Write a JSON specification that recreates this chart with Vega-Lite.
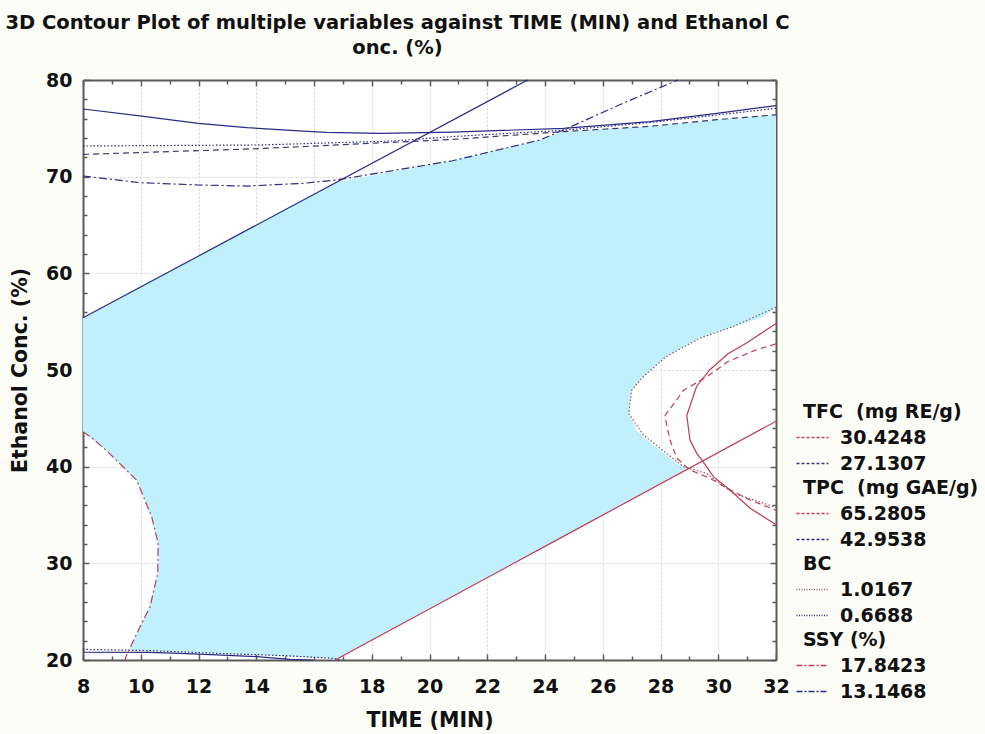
{
  "$schema": "https://vega.github.io/schema/vega-lite/v6.json",
  "width": 693,
  "height": 580,
  "autosize": {"type": "none"},
  "padding": {"left": 83, "top": 80, "right": 209, "bottom": 74},
  "background": "#fdfdf8",
  "title": {
    "text": ["3D Contour Plot of multiple variables against TIME (MIN) and Ethanol C", "onc. (%)"],
    "font": "DejaVu Sans", "fontWeight": "bold", "fontSize": 19.5, "lineHeight": 25,
    "anchor": "middle", "dx": -32, "offset": 13, "color": "#111111"
  },
  "config": {
    "view": {"stroke": null, "fill": "#ffffff"},
    "axis": {
      "domainColor": "#5a5a5a", "domainWidth": 2, "tickColor": "#5a5a5a", "tickWidth": 1.5,
      "labelFont": "DejaVu Sans", "labelFontWeight": "bold", "labelFontSize": 19, "labelColor": "#111111",
      "titleFont": "DejaVu Sans", "titleFontWeight": "bold", "titleFontSize": 20.5, "titleColor": "#111111",
      "labelFlush": false, "labelOverlap": false
    },
    "legend": {
      "orient": "none", "padding": 0,
      "titleFont": "DejaVu Sans", "titleFontSize": 19, "titleFontWeight": "bold", "titleColor": "#111111",
      "labelFont": "DejaVu Sans", "labelFontSize": 19, "labelFontWeight": "bold", "labelColor": "#111111",
      "symbolType": "M-2,0H2", "symbolSize": 256, "symbolStrokeWidth": 1.5,
      "rowPadding": 6, "titlePadding": 6, "labelOffset": 18
    }
  },
  "datasets": {
    "region": [
      {"y": 20, "xl": 16.75, "xr": 16.75},
      {"y": 20.2, "xl": 16.5, "xr": 16.85},
      {"y": 20.5, "xl": 14.46, "xr": 17.04},
      {"y": 20.8, "xl": 11.72, "xr": 17.23},
      {"y": 21.0, "xl": 9.6, "xr": 17.35},
      {"y": 23.4, "xl": 9.97, "xr": 18.83},
      {"y": 25.5, "xl": 10.32, "xr": 20.13},
      {"y": 29.0, "xl": 10.59, "xr": 22.3},
      {"y": 32.1, "xl": 10.6, "xr": 24.22},
      {"y": 34.8, "xl": 10.38, "xr": 25.89},
      {"y": 38.6, "xl": 9.86, "xr": 28.24},
      {"y": 39.75, "xl": 9.47, "xr": 28.94},
      {"y": 40.3, "xl": 9.28, "xr": 28.56},
      {"y": 41.7, "xl": 8.8, "xr": 28.0},
      {"y": 43.1, "xl": 8.21, "xr": 27.4},
      {"y": 43.6, "xl": 8.0, "xr": 27.2},
      {"y": 45.5, "xl": 8.0, "xr": 26.9},
      {"y": 47.9, "xl": 8.0, "xr": 27.0},
      {"y": 49.3, "xl": 8.0, "xr": 27.4},
      {"y": 51.4, "xl": 8.0, "xr": 28.2},
      {"y": 53.3, "xl": 8.0, "xr": 29.37},
      {"y": 54.5, "xl": 8.0, "xr": 30.52},
      {"y": 55.4, "xl": 8.0, "xr": 31.5},
      {"y": 56.5, "xl": 8.69, "xr": 32},
      {"y": 60, "xl": 10.88, "xr": 32},
      {"y": 65, "xl": 14.01, "xr": 32},
      {"y": 69.45, "xl": 16.8, "xr": 32},
      {"y": 71.65, "xl": 20.8, "xr": 32},
      {"y": 73.8, "xl": 23.83, "xr": 32},
      {"y": 74.65, "xl": 24.6, "xr": 32},
      {"y": 75.2, "xl": 27.6, "xr": 32},
      {"y": 75.9, "xl": 29.96, "xr": 32},
      {"y": 76.4, "xl": 32, "xr": 32}
    ],
    "tfc": [
      {"lvl": "30.4248", "seg": "K", "i": 0, "x": 32, "y": 52.7},
      {"lvl": "30.4248", "seg": "K", "i": 1, "x": 31.33, "y": 52.1},
      {"lvl": "30.4248", "seg": "K", "i": 2, "x": 30.35, "y": 50.9},
      {"lvl": "30.4248", "seg": "K", "i": 3, "x": 29.6, "y": 49.3},
      {"lvl": "30.4248", "seg": "K", "i": 4, "x": 28.8, "y": 47.9},
      {"lvl": "30.4248", "seg": "K", "i": 5, "x": 28.16, "y": 45.3},
      {"lvl": "30.4248", "seg": "K", "i": 6, "x": 28.2, "y": 44.5},
      {"lvl": "30.4248", "seg": "K", "i": 7, "x": 28.33, "y": 42.76},
      {"lvl": "30.4248", "seg": "K", "i": 8, "x": 28.56, "y": 40.9},
      {"lvl": "30.4248", "seg": "K", "i": 9, "x": 29.02, "y": 39.66},
      {"lvl": "30.4248", "seg": "K", "i": 10, "x": 29.71, "y": 38.8},
      {"lvl": "30.4248", "seg": "K", "i": 11, "x": 30.41, "y": 37.6},
      {"lvl": "30.4248", "seg": "K", "i": 12, "x": 31.1, "y": 36.55},
      {"lvl": "30.4248", "seg": "K", "i": 13, "x": 32, "y": 35.5},
      {"lvl": "27.1307", "seg": "C", "i": 0, "x": 8, "y": 72.3},
      {"lvl": "27.1307", "seg": "C", "i": 1, "x": 14.1, "y": 72.9},
      {"lvl": "27.1307", "seg": "C", "i": 2, "x": 20.8, "y": 73.85},
      {"lvl": "27.1307", "seg": "C", "i": 3, "x": 24.6, "y": 74.65},
      {"lvl": "27.1307", "seg": "C", "i": 4, "x": 27.6, "y": 75.2},
      {"lvl": "27.1307", "seg": "C", "i": 5, "x": 29.96, "y": 75.9},
      {"lvl": "27.1307", "seg": "C", "i": 6, "x": 32, "y": 76.4}
    ],
    "tpc": [
      {"lvl": "65.2805", "seg": "F", "i": 0, "x": 16.73, "y": 20},
      {"lvl": "65.2805", "seg": "F", "i": 1, "x": 24.4, "y": 32.4},
      {"lvl": "65.2805", "seg": "F", "i": 2, "x": 32, "y": 44.7},
      {"lvl": "65.2805", "seg": "J", "i": 0, "x": 32, "y": 54.8},
      {"lvl": "65.2805", "seg": "J", "i": 1, "x": 30.98, "y": 52.8},
      {"lvl": "65.2805", "seg": "J", "i": 2, "x": 30.35, "y": 51.7},
      {"lvl": "65.2805", "seg": "J", "i": 3, "x": 29.7, "y": 50.0},
      {"lvl": "65.2805", "seg": "J", "i": 4, "x": 29.25, "y": 48.3},
      {"lvl": "65.2805", "seg": "J", "i": 5, "x": 28.91, "y": 45.3},
      {"lvl": "65.2805", "seg": "J", "i": 6, "x": 29.02, "y": 42.76},
      {"lvl": "65.2805", "seg": "J", "i": 7, "x": 29.25, "y": 41.4},
      {"lvl": "65.2805", "seg": "J", "i": 8, "x": 29.48, "y": 40.5},
      {"lvl": "65.2805", "seg": "J", "i": 9, "x": 29.83, "y": 38.97},
      {"lvl": "65.2805", "seg": "J", "i": 10, "x": 30.41, "y": 37.59},
      {"lvl": "65.2805", "seg": "J", "i": 11, "x": 31.1, "y": 35.7},
      {"lvl": "65.2805", "seg": "J", "i": 12, "x": 32, "y": 34.0},
      {"lvl": "42.9538", "seg": "A", "i": 0, "x": 8, "y": 77.0},
      {"lvl": "42.9538", "seg": "A", "i": 1, "x": 9.97, "y": 76.28},
      {"lvl": "42.9538", "seg": "A", "i": 2, "x": 11.99, "y": 75.52},
      {"lvl": "42.9538", "seg": "A", "i": 3, "x": 13.67, "y": 75.07},
      {"lvl": "42.9538", "seg": "A", "i": 4, "x": 15.63, "y": 74.72},
      {"lvl": "42.9538", "seg": "A", "i": 5, "x": 16.44, "y": 74.59},
      {"lvl": "42.9538", "seg": "A", "i": 6, "x": 18.29, "y": 74.48},
      {"lvl": "42.9538", "seg": "A", "i": 7, "x": 20.8, "y": 74.6},
      {"lvl": "42.9538", "seg": "A", "i": 8, "x": 24.64, "y": 75.0},
      {"lvl": "42.9538", "seg": "A", "i": 9, "x": 27.64, "y": 75.69},
      {"lvl": "42.9538", "seg": "A", "i": 10, "x": 29.95, "y": 76.55},
      {"lvl": "42.9538", "seg": "A", "i": 11, "x": 32, "y": 77.35},
      {"lvl": "42.9538", "seg": "E", "i": 0, "x": 8, "y": 55.4},
      {"lvl": "42.9538", "seg": "E", "i": 1, "x": 23.4, "y": 80},
      {"lvl": "42.9538", "seg": "G", "i": 0, "x": 8, "y": 20.8},
      {"lvl": "42.9538", "seg": "G", "i": 1, "x": 10.32, "y": 20.79},
      {"lvl": "42.9538", "seg": "G", "i": 2, "x": 11.36, "y": 20.69},
      {"lvl": "42.9538", "seg": "G", "i": 3, "x": 12.63, "y": 20.52},
      {"lvl": "42.9538", "seg": "G", "i": 4, "x": 14.02, "y": 20.35},
      {"lvl": "42.9538", "seg": "G", "i": 5, "x": 15.17, "y": 20.07},
      {"lvl": "42.9538", "seg": "G", "i": 6, "x": 15.97, "y": 20.0}
    ],
    "bc": [
      {"lvl": "1.0167", "seg": "L", "i": 0, "x": 32, "y": 56.5},
      {"lvl": "1.0167", "seg": "L", "i": 1, "x": 30.52, "y": 54.5},
      {"lvl": "1.0167", "seg": "L", "i": 2, "x": 29.37, "y": 53.3},
      {"lvl": "1.0167", "seg": "L", "i": 3, "x": 28.2, "y": 51.4},
      {"lvl": "1.0167", "seg": "L", "i": 4, "x": 27.4, "y": 49.3},
      {"lvl": "1.0167", "seg": "L", "i": 5, "x": 27.0, "y": 47.9},
      {"lvl": "1.0167", "seg": "L", "i": 6, "x": 26.9, "y": 45.5},
      {"lvl": "1.0167", "seg": "L", "i": 7, "x": 27.4, "y": 43.3},
      {"lvl": "1.0167", "seg": "L", "i": 8, "x": 28.2, "y": 41.4},
      {"lvl": "1.0167", "seg": "L", "i": 9, "x": 28.79, "y": 40.0},
      {"lvl": "1.0167", "seg": "L", "i": 10, "x": 29.6, "y": 39.3},
      {"lvl": "1.0167", "seg": "L", "i": 11, "x": 30.52, "y": 37.24},
      {"lvl": "1.0167", "seg": "L", "i": 12, "x": 32, "y": 35.8},
      {"lvl": "0.6688", "seg": "B", "i": 0, "x": 8, "y": 73.17},
      {"lvl": "0.6688", "seg": "B", "i": 1, "x": 14.13, "y": 73.28},
      {"lvl": "0.6688", "seg": "B", "i": 2, "x": 18.74, "y": 73.69},
      {"lvl": "0.6688", "seg": "B", "i": 3, "x": 20.8, "y": 74.15},
      {"lvl": "0.6688", "seg": "B", "i": 4, "x": 24.64, "y": 74.8},
      {"lvl": "0.6688", "seg": "B", "i": 5, "x": 27.64, "y": 75.6},
      {"lvl": "0.6688", "seg": "B", "i": 6, "x": 32, "y": 77.07},
      {"lvl": "0.6688", "seg": "H", "i": 0, "x": 8, "y": 21.1},
      {"lvl": "0.6688", "seg": "H", "i": 1, "x": 10.32, "y": 20.97},
      {"lvl": "0.6688", "seg": "H", "i": 2, "x": 12.63, "y": 20.69},
      {"lvl": "0.6688", "seg": "H", "i": 3, "x": 14.94, "y": 20.45},
      {"lvl": "0.6688", "seg": "H", "i": 4, "x": 16.67, "y": 20.18},
      {"lvl": "0.6688", "seg": "H", "i": 5, "x": 16.9, "y": 20.0}
    ],
    "ssy": [
      {"lvl": "17.8423", "seg": "I", "i": 0, "x": 8, "y": 43.6},
      {"lvl": "17.8423", "seg": "I", "i": 1, "x": 8.3, "y": 43.0},
      {"lvl": "17.8423", "seg": "I", "i": 2, "x": 8.8, "y": 41.7},
      {"lvl": "17.8423", "seg": "I", "i": 3, "x": 9.86, "y": 38.6},
      {"lvl": "17.8423", "seg": "I", "i": 4, "x": 10.38, "y": 34.8},
      {"lvl": "17.8423", "seg": "I", "i": 5, "x": 10.6, "y": 32.1},
      {"lvl": "17.8423", "seg": "I", "i": 6, "x": 10.59, "y": 29.0},
      {"lvl": "17.8423", "seg": "I", "i": 7, "x": 10.32, "y": 25.5},
      {"lvl": "17.8423", "seg": "I", "i": 8, "x": 9.97, "y": 23.4},
      {"lvl": "17.8423", "seg": "I", "i": 9, "x": 9.51, "y": 20.5},
      {"lvl": "17.8423", "seg": "I", "i": 10, "x": 9.45, "y": 20},
      {"lvl": "13.1468", "seg": "D", "i": 0, "x": 8, "y": 70.07},
      {"lvl": "13.1468", "seg": "D", "i": 1, "x": 9.97, "y": 69.38},
      {"lvl": "13.1468", "seg": "D", "i": 2, "x": 11.99, "y": 69.14},
      {"lvl": "13.1468", "seg": "D", "i": 3, "x": 13.67, "y": 69.03},
      {"lvl": "13.1468", "seg": "D", "i": 4, "x": 15.63, "y": 69.31},
      {"lvl": "13.1468", "seg": "D", "i": 5, "x": 16.78, "y": 69.66},
      {"lvl": "13.1468", "seg": "D", "i": 6, "x": 20.8, "y": 71.65},
      {"lvl": "13.1468", "seg": "D", "i": 7, "x": 23.83, "y": 73.8},
      {"lvl": "13.1468", "seg": "D", "i": 8, "x": 24.64, "y": 74.83},
      {"lvl": "13.1468", "seg": "D", "i": 9, "x": 26.71, "y": 77.6},
      {"lvl": "13.1468", "seg": "D", "i": 10, "x": 28.6, "y": 80}
    ]
  },
  "layer": [
    {
      "data": {"name": "region"},
      "mark": {"type": "area", "orient": "horizontal", "color": "#c0f0fb", "opacity": 1},
      "encoding": {
        "y": {
          "field": "y", "type": "quantitative",
          "scale": {"domain": [20, 80], "nice": false, "zero": false},
          "axis": {
            "orient": "left", "title": "Ethanol Conc. (%)",
            "values": [20,22,24,26,28,30,32,34,36,38,40,42,44,46,48,50,52,54,56,58,60,62,64,66,68,70,72,74,76,78,80],
            "labelExpr": "datum.value % 10 === 0 ? datum.label : ''",
            "tickSize": {"condition": {"test": "datum.value % 10 === 0", "value": -6}, "value": -4},
            "labelPadding": 17, "titlePadding": 15,
            "grid": true, "gridColor": "#d6d6d6", "gridDash": [2, 2],
            "gridOpacity": {"condition": {"test": "datum.value % 10 === 0", "value": 1}, "value": 0}
          }
        },
        "x": {
          "field": "xl", "type": "quantitative",
          "scale": {"domain": [8, 32], "nice": false, "zero": false},
          "axis": {
            "orient": "bottom", "title": "TIME (MIN)",
            "values": [8,9,10,11,12,13,14,15,16,17,18,19,20,21,22,23,24,25,26,27,28,29,30,31,32],
            "labelExpr": "datum.value % 2 === 0 ? datum.label : ''",
            "tickSize": {"condition": {"test": "datum.value % 2 === 0", "value": -6}, "value": -4},
            "labelPadding": 23, "titlePadding": 12,
            "grid": true, "gridColor": "#d6d6d6", "gridDash": [2, 2],
            "gridOpacity": {"condition": {"test": "datum.value % 2 === 0", "value": 1}, "value": 0}
          }
        },
        "x2": {"field": "xr"}
      }
    },
    {
      "data": {"name": "tfc"},
      "mark": {"type": "line", "strokeWidth": 1.2, "strokeDash": [6, 4]},
      "encoding": {
        "x": {
          "field": "x", "type": "quantitative", "scale": {"domain": [8, 32], "nice": false, "zero": false},
          "axis": {
            "orient": "top", "title": null, "labels": false, "grid": false,
            "values": [8,9,10,11,12,13,14,15,16,17,18,19,20,21,22,23,24,25,26,27,28,29,30,31,32],
            "tickSize": {"condition": {"test": "datum.value % 2 === 0", "value": -6}, "value": -4}
          }
        },
        "y": {
          "field": "y", "type": "quantitative", "scale": {"domain": [20, 80], "nice": false, "zero": false},
          "axis": {
            "orient": "right", "title": null, "labels": false, "grid": false,
            "values": [20,22,24,26,28,30,32,34,36,38,40,42,44,46,48,50,52,54,56,58,60,62,64,66,68,70,72,74,76,78,80],
            "tickSize": {"condition": {"test": "datum.value % 10 === 0", "value": -6}, "value": -4}
          }
        },
        "color": {
          "field": "lvl", "type": "nominal",
          "scale": {"domain": ["30.4248", "27.1307"], "range": ["#c0405a", "#3a3a70"]},
          "legend": {"title": "TFC\u00a0 (mg RE/g)", "legendX": 720, "legendY": 323, "symbolDash": [3, 2]}
        },
        "detail": {"field": "seg"},
        "order": {"field": "i", "type": "quantitative"}
      }
    },
    {
      "data": {"name": "tpc"},
      "mark": {"type": "line", "strokeWidth": 1.2},
      "encoding": {
        "x": {"field": "x", "type": "quantitative", "axis": null},
        "y": {"field": "y", "type": "quantitative", "axis": null},
        "color": {
          "field": "lvl", "type": "nominal",
          "scale": {"domain": ["65.2805", "42.9538"], "range": ["#c23b55", "#2b2b85"]},
          "legend": {"title": "TPC\u00a0 (mg GAE/g)", "legendX": 720, "legendY": 399, "symbolDash": [3, 2]}
        },
        "detail": {"field": "seg"},
        "order": {"field": "i", "type": "quantitative"}
      }
    },
    {
      "data": {"name": "bc"},
      "mark": {"type": "line", "strokeWidth": 1.2, "strokeDash": [1.5, 2]},
      "encoding": {
        "x": {"field": "x", "type": "quantitative", "axis": null},
        "y": {"field": "y", "type": "quantitative", "axis": null},
        "color": {
          "field": "lvl", "type": "nominal",
          "scale": {"domain": ["1.0167", "0.6688"], "range": ["#8a5a6c", "#2b2b85"]},
          "legend": {"title": "BC", "legendX": 720, "legendY": 475, "symbolDash": [1, 1.5]}
        },
        "detail": {"field": "seg"},
        "order": {"field": "i", "type": "quantitative"}
      }
    },
    {
      "data": {"name": "ssy"},
      "mark": {"type": "line", "strokeWidth": 1.2, "strokeDash": [8, 3, 2, 3]},
      "encoding": {
        "x": {"field": "x", "type": "quantitative", "axis": null},
        "y": {"field": "y", "type": "quantitative", "axis": null},
        "color": {
          "field": "lvl", "type": "nominal",
          "scale": {"domain": ["17.8423", "13.1468"], "range": ["#c23b55", "#2b2b85"]},
          "legend": {"title": "SSY (%)", "legendX": 720, "legendY": 551, "symbolDash": [6, 2, 2, 2]}
        },
        "detail": {"field": "seg"},
        "order": {"field": "i", "type": "quantitative"}
      }
    }
  ],
  "resolve": {
    "scale": {"color": "independent"},
    "axis": {"x": "independent", "y": "independent"}
  }
}
